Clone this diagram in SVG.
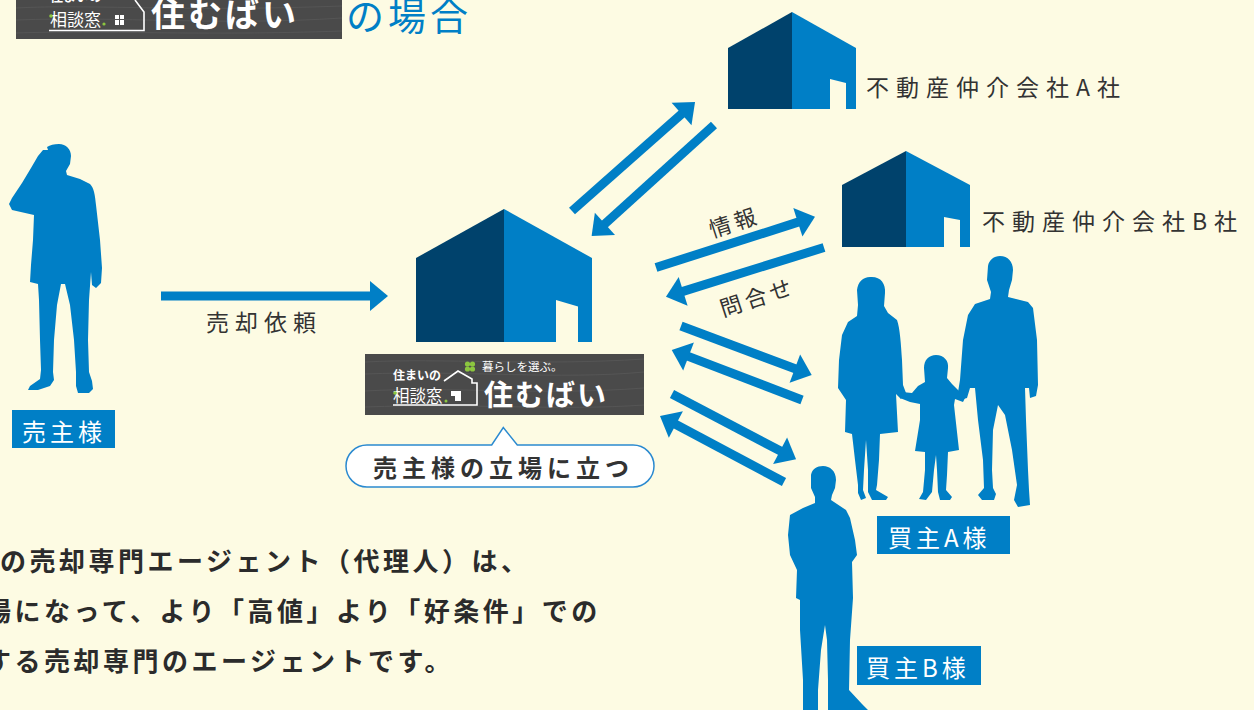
<svg xmlns="http://www.w3.org/2000/svg" width="1254" height="710" viewBox="0 0 1254 710">
  <defs>
    <style>
      .jp{font-family:"Noto Sans CJK JP","Noto Sans",sans-serif}
      .blue{fill:#007fc6}
      .navy{fill:#00426c}
      .cream{fill:#fdfbe3}
      .lbl{font-size:24px;fill:#fff;letter-spacing:4px}
      .name{font-size:23px;fill:#333;letter-spacing:7px}
      .note{font-size:26px;font-weight:700;fill:#2b2b2b;letter-spacing:3.5px}
      .arrow{stroke:#007fc6;stroke-width:9;fill:none;marker-end:url(#head)}
      .wood{fill:#4a4a4a}
      .grain{fill:none;stroke:#5a5a5a;stroke-width:1;opacity:0.7}
      .wline{fill:none;stroke:#fff;stroke-width:1.6}
    </style>
    <marker id="head" markerUnits="userSpaceOnUse" orient="auto" overflow="visible" markerWidth="40" markerHeight="40" refX="0" refY="0">
      <path d="M-1,-15 L17,0 L-1,15 Z" fill="#007fc6"/>
    </marker>
  </defs>

  <!-- background -->
  <rect width="1254" height="710" fill="#fdfbe3"/>

  <!-- heading logo badge -->
  <g id="title-logo">
    <rect x="16" y="0" width="326" height="39" class="wood"/>
    <path class="grain" d="M16,8 C90,4 180,12 342,6 M16,20 C120,16 220,26 342,18 M16,33 C100,30 200,36 342,31"/>
    <text x="50" y="1" class="jp" font-size="13" font-weight="700" fill="#fff">住まいの</text>
    <text x="50" y="26" class="jp" font-size="17" fill="#fff">相談窓</text>
    <circle cx="51" cy="16" r="1.8" fill="#8cc63f"/>
    <circle cx="104" cy="24" r="1.6" fill="#8cc63f"/>
    <g fill="#fff">
      <rect x="115" y="15" width="4" height="4"/><rect x="120" y="15" width="4" height="4"/>
      <rect x="115" y="20" width="4" height="5"/><rect x="120" y="20" width="4" height="5"/>
    </g>
    <polyline class="wline" points="49,30.5 144,30.5 144,12 135,0"/>
    <text x="151" y="27" class="jp" font-size="34" font-weight="700" fill="#fff" letter-spacing="3">住むばい</text>
  </g>
  <text id="title" x="346" y="30" class="jp" font-size="38" fill="#007fc6" letter-spacing="4">の場合</text>

  <!-- connectors -->
  <g id="connectors">
    <line class="arrow" stroke-width="10" x1="161" y1="296" x2="371" y2="296"/>
    <line class="arrow" x1="572" y1="211" x2="682.3" y2="113.3"/>
    <line class="arrow" x1="714" y1="125" x2="604.2" y2="224.5"/>
    <line class="arrow" x1="656" y1="267.5" x2="798.8" y2="221.9"/>
    <line class="arrow" x1="824" y1="247.5" x2="682.2" y2="291.6"/>
    <line class="arrow" x1="681" y1="326" x2="795.8" y2="369"/>
    <line class="arrow" x1="802" y1="400" x2="687.6" y2="356.1"/>
    <line class="arrow" x1="672" y1="394" x2="781" y2="451.3"/>
    <line class="arrow" x1="784" y1="482" x2="675" y2="424"/>
    <text x="206" y="331" class="jp" font-size="23" fill="#333" letter-spacing="6">売却依頼</text>
    <text class="jp" font-size="22" fill="#333" letter-spacing="4" text-anchor="middle" transform="translate(737,230) rotate(-18)">情報</text>
    <text class="jp" font-size="22" fill="#333" letter-spacing="4" text-anchor="middle" transform="translate(760,305) rotate(-18)">問合せ</text>
  </g>

  <!-- seller -->
  <g id="seller">
    <path class="blue" d="M59,144 C66,144 71,149 71,156 L70,164 L66,171 L67,175 L80,179 L90,184 C94,188 95,195 96,205 L100,240 L102,268 L101,283 L96,288 L92,285 L91,272 L89,300 L88,340 L89,372 L92,381 L93,389 L89,393 L78,393 L76,386 L76,372 L74,340 L70,305 L65,284 L61,284 L57,305 L54,340 L53,372 L54,380 L50,386 L38,390 L28,390 L30,386 L40,379 L41,370 L40,340 L39,300 L38,284 L30,282 L31,265 L33,240 L34,215 L12,210 L9,204 L12,198 L22,183 L31,168 L38,156 L43,150 L48,150 L47,147 C50,145 54,144 59,144 Z"/>
    <rect x="12" y="410" width="103" height="38" class="blue"/>
    <text x="22" y="441" class="jp lbl">売主様</text>
  </g>

  <!-- agency (center) -->
  <g id="agency">
    <polygon class="navy" points="416,258 504,209 504,342 416,342"/>
    <polygon class="blue" points="504,209 592,258 592,342 504,342"/>
    <polygon class="cream" points="556,300 578,306.5 578,342 556,342"/>
    <rect x="365" y="354" width="279" height="61" class="wood"/>
    <path class="grain" d="M365,362 C440,358 540,366 644,359 M365,374 C460,370 560,380 644,372 M365,391 C450,386 540,396 644,388 M365,407 C470,403 560,411 644,405"/>
    <text x="393" y="380" class="jp" font-size="12" font-weight="700" fill="#fff">住まいの</text>
    <text x="393" y="402" class="jp" font-size="16.5" fill="#fff">相談窓</text>
    <circle cx="395" cy="393" r="1.8" fill="#8cc63f"/>
    <circle cx="446" cy="401" r="1.5" fill="#8cc63f"/>
    <rect x="451" y="391" width="10" height="10" fill="#fff"/>
    <rect x="451" y="396" width="4" height="5" fill="#4a4a4a"/>
    <path class="wline" d="M444,381 L458,371 L472,379 L472,383 L477,383 L477,405 L393,405"/>
    <g fill="#8cc63f">
      <circle cx="467.5" cy="364" r="2.6"/><circle cx="472.5" cy="364" r="2.6"/>
      <circle cx="467.5" cy="369" r="2.6"/><circle cx="472.5" cy="369" r="2.6"/>
    </g>
    <text x="482" y="371" class="jp" font-size="11.5" fill="#fff">暮らしを選ぶ。</text>
    <text x="484" y="406" class="jp" font-size="29" font-weight="700" fill="#fff" letter-spacing="2">住むばい</text>
    <path d="M367,445 L491.7,445 L503.3,427.5 L517.3,445 L633,445 A21,21 0 0 1 633,487 L367,487 A21,21 0 0 1 367,445 Z" fill="#fff" stroke="#2b8ad0" stroke-width="1.5"/>
    <text x="373" y="477" class="jp" font-size="24" font-weight="700" fill="#333" letter-spacing="5">売主様の立場に立つ</text>
  </g>

  <!-- agency A -->
  <g id="agent-a">
    <polygon class="navy" points="728,48 792,12 792,109 728,109"/>
    <polygon class="blue" points="792,12 856,48 856,109 792,109"/>
    <polygon class="cream" points="830,79 846,83 846,109 830,109"/>
    <text x="866" y="96" class="jp name">不動産仲介会社A社</text>
  </g>

  <!-- agency B -->
  <g id="agent-b">
    <polygon class="navy" points="842,185 906,151 906,247 842,247"/>
    <polygon class="blue" points="906,151 970,185 970,247 906,247"/>
    <polygon class="cream" points="944,217 960,220 960,247 944,247"/>
    <text x="982" y="230" class="jp name">不動産仲介会社B社</text>
  </g>

  <!-- buyer A (family) -->
  <g id="buyer-a">
    <path class="blue" d="M870,277 C880,276 886,283 885,293 L884,306 L888,313 L897,320 C900,328 901,345 902,360 L903,385 L906,393 L901,399 L896,394 L898,432 L880,434 L879,460 L877,485 L876,490 L888,497 L886,500 L872,500 L868,492 L868,470 L866,440 L864,470 L863,490 L866,498 L861,500 L858,493 L858,485 L855,460 L852,434 L845,432 L846,400 L838,388 L839,360 L842,335 L848,322 L857,316 L858,305 L857,290 C858,282 863,277 870,277 Z"/>
    <path class="blue" d="M936,355 C944,355 949,361 948,368 L947,378 L952,384 L960,392 L966,396 L963,402 L955,399 L954,405 L959,450 L948,452 L947,475 L946,490 L952,497 L950,500 L940,500 L938,492 L937,470 L936,455 L934,470 L932,492 L926,500 L919,499 L923,492 L925,470 L925,452 L915,451 L920,420 L920,404 L910,402 L900,398 L902,392 L912,393 L918,386 L925,382 L924,368 C924,360 929,355 936,355 Z"/>
    <path class="blue" d="M1000,256 C1008,256 1013,262 1013,270 L1012,280 L1009,290 L1008,297 L1028,302 L1033,308 L1037,340 L1038,385 L1036,396 L1030,398 L1029,388 L1025,388 L1026,420 L1028,470 L1029,490 L1030,505 L1018,507 L1014,500 L1017,485 L1012,450 L1005,415 L998,405 L993,430 L992,470 L993,488 L996,494 L994,500 L982,500 L978,495 L984,488 L983,460 L978,420 L975,388 L970,388 L967,398 L960,400 L958,392 L960,380 L963,340 L968,315 L975,304 L990,299 L991,292 L987,280 L988,266 C989,260 994,256 1000,256 Z"/>
    <rect x="877" y="516" width="133" height="38" class="blue"/>
    <text x="888" y="547" class="jp lbl">買主A様</text>
  </g>

  <!-- buyer B -->
  <g id="buyer-b">
    <path class="blue" d="M823,466 C830,466 836,471 836,480 L835,488 L832,495 L831,500 L846,510 L850,518 L855,540 L857,555 L852,562 L853,598 L850,640 L849,690 L862,704 L870,712 L828,712 L828,680 L827,640 L825,625 L821,650 L818,690 L818,712 L803,712 L803,680 L800,630 L800,600 L796,598 L797,570 L790,555 L788,535 L790,515 L803,508 L815,503 L815,497 L811,488 L811,475 C812,469 817,466 823,466 Z"/>
    <rect x="857" y="646" width="124" height="39" class="blue"/>
    <text x="866" y="677" class="jp lbl">買主B様</text>
  </g>

  <!-- explanatory note -->
  <g id="note">
    <text x="0" y="571" class="jp note">の売却専門エージェント（代理人）は、</text>
    <text x="-15" y="621" class="jp note">場になって、より「高値」より「好条件」での</text>
    <text x="-15" y="671" class="jp note">する売却専門のエージェントです。</text>
  </g>
</svg>
